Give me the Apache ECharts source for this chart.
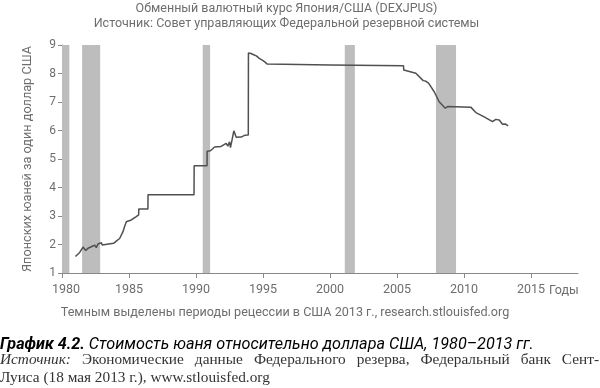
<!DOCTYPE html>
<html><head><meta charset="utf-8">
<script src="https://cdn.jsdelivr.net/npm/echarts@6/dist/echarts.min.js"></script>
<style>html,body{margin:0;padding:0;background:#fff}#c{width:600px;height:388px}</style>
</head><body><div id="c"></div>
<script>
const titleLines = ['Обменный валютный курс Япония/США (DEXJPUS)', 'Источник: Совет управляющих Федеральной резервной системы'];
const yName = 'Японских юаней за один доллар США';
const xName = 'Темным выделены периоды рецессии в США 2013 г., research.stlouisfed.org';
const xUnit = 'Годы';
const captionBold = 'График 4.2.';
const captionText = ' Стоимость юаня относительно доллара США, 1980–2013 гг.';
const sourceLabel = 'Источник:';
const sourceLine1Words = ['Экономические', 'данные', 'Федерального', 'резерва,', 'Федеральный', 'банк', 'Сент-'];
const sourceLine2 = 'Луиса (18 мая 2013 г.), www.stlouisfed.org';

const recessions = [[1980.0, 1980.55], [1981.5, 1982.85], [1990.5, 1991.05], [2001.1, 2001.85], [2007.9, 2009.4]];

const years = [1981.0,1981.32,1981.57,1981.77,1981.94,1982.06,1982.19,1982.31,1982.44,1982.56,1982.68,1982.81,1982.94,1983.0,1983.06,1983.85,1984.05,1984.3,1984.55,1984.67,1984.8,1984.82,1985.17,1985.54,1985.72,1985.73,1986.41,1986.42,1989.85,1989.86,1990.82,1990.83,1991.08,1991.38,1991.87,1992.25,1992.37,1992.5,1992.57,1992.7,1992.82,1993.0,1993.37,1993.62,1993.9,1993.91,1994.1,1994.3,1994.42,1994.5,1994.6,1994.72,1994.86,1994.97,1995.05,1995.15,1995.22,1995.28,1995.32,2000.0,2005.48,2005.5,2006.4,2006.95,2007.1,2007.35,2007.77,2008.14,2008.6,2008.77,2010.5,2010.88,2011.5,2012.12,2012.37,2012.62,2012.87,2013.07,2013.29];
const rates = [1.58,1.72,1.91,1.79,1.87,1.81,1.92,1.87,1.98,1.89,2.02,1.95,2.06,1.98,2.05,2.04,2.12,2.21,2.45,2.63,2.80,2.86,2.86,2.98,3.04,3.25,3.25,3.75,3.75,4.76,4.76,5.27,5.29,5.42,5.44,5.55,5.45,5.60,5.40,5.70,5.99,5.76,5.77,5.83,5.84,8.72,8.70,8.66,8.60,8.62,8.56,8.53,8.50,8.46,8.48,8.40,8.38,8.44,8.33,8.30,8.27,8.12,8.01,7.75,7.74,7.66,7.36,7.01,6.78,6.84,6.82,6.63,6.48,6.31,6.39,6.37,6.22,6.23,6.16];

const yTicks = {min: 1, max: 9, interval: 1};
const xTicks = {min: 1980, max: 2018.5, interval: 5};

const F = 'Roboto, "DejaVu Sans", sans-serif';

// justify first source line across the full width
const mctx = document.createElement('canvas').getContext('2d');
function tw(font, s) { mctx.font = font; return mctx.measureText(s).width; }
const srcFontN = '15.3px "Liberation Serif"';
const srcFontI = 'italic 15.3px "Liberation Serif"';
const lineWords = [{t: sourceLabel, f: srcFontI}].concat(sourceLine1Words.map(w => ({t: w, f: srcFontN})));
const widths = lineWords.map(w => tw(w.f, w.t));
const totalW = widths.reduce((a, b) => a + b, 0);
const lineWidth = 599;
const gap = (lineWidth - totalW) / (lineWords.length - 1);
const wordGraphics = [];
let cx = 0;
lineWords.forEach((w, i) => {
  wordGraphics.push({type: 'text', x: cx, y: 352, style: {text: w.t, font: w.f, fill: '#333'}});
  cx += widths[i] + gap;
});

const chart = echarts.init(document.getElementById('c'), null, {renderer: 'canvas'});
chart.setOption({
  animation: false,
  backgroundColor: '#fff',
  grid: {left: 62, right: 22, top: 45, bottom: 115},
  xAxis: {
    type: 'value', min: xTicks.min, max: xTicks.max, interval: xTicks.interval,
    name: xName, nameLocation: 'middle', nameGap: 33,
    nameTextStyle: {fontFamily: F, fontSize: 12.6, color: '#6e6e6e', padding: [0, 70, 0, 0]},
    axisLine: {lineStyle: {color: '#888', width: 1}},
    axisTick: {show: true, length: 5, lineStyle: {color: '#888'}},
    axisLabel: {fontFamily: F, fontSize: 12.5, color: '#6e6e6e', margin: 10, showMaxLabel: false,
      formatter: v => (v === 1980 ? '{f|1980}' : (v % 5 === 0 ? String(v) : '')),
      rich: {f: {fontFamily: F, fontSize: 12.5, color: '#6e6e6e', padding: [0, 0, 0, 8]}}},
    splitLine: {show: false}
  },
  yAxis: {
    type: 'value', min: yTicks.min, max: yTicks.max, interval: yTicks.interval,
    name: yName, nameLocation: 'middle', nameRotate: 90, nameGap: 28,
    nameTextStyle: {fontFamily: F, fontSize: 12.7, color: '#6e6e6e'},
    axisLine: {show: true, lineStyle: {color: '#888', width: 1}},
    axisTick: {show: true, length: 4, lineStyle: {color: '#888'}},
    axisLabel: {fontFamily: F, fontSize: 12, color: '#6e6e6e', margin: 6},
    splitLine: {show: false}
  },
  series: [{
    type: 'line',
    data: years.map((y, i) => [y, rates[i]]),
    showSymbol: false, symbol: 'none',
    lineStyle: {color: '#505050', width: 1.5},
    z: 3,
    markArea: {
      silent: true,
      itemStyle: {color: '#bdbdbd'},
      data: recessions.map(r => [{xAxis: r[0]}, {xAxis: r[1]}])
    }
  }],
  graphic: [
    {type: 'text', x: 286.5, y: 2, style: {text: titleLines[0], font: '12.5px ' + F, fill: '#6e6e6e', textAlign: 'center'}},
    {type: 'text', x: 286.5, y: 17, style: {text: titleLines[1], font: '12.5px ' + F, fill: '#6e6e6e', textAlign: 'center'}},
    {type: 'text', x: 549, y: 284, style: {text: xUnit, font: '12.5px ' + F, fill: '#6e6e6e'}},
    {type: 'text', x: 0, y: 337, style: {
      text: '{b|' + captionBold + '}{i|' + captionText + '}',
      rich: {
        b: {fontFamily: F, fontSize: 16.2, fontStyle: 'italic', fontWeight: 'bold', color: '#333'},
        i: {fontFamily: F, fontSize: 16.2, fontStyle: 'italic', color: '#333'}
      }
    }},
    ...wordGraphics,
    {type: 'text', x: 0, y: 370, style: {text: sourceLine2, font: srcFontN, fill: '#333'}}
  ]
});
</script></body></html>
